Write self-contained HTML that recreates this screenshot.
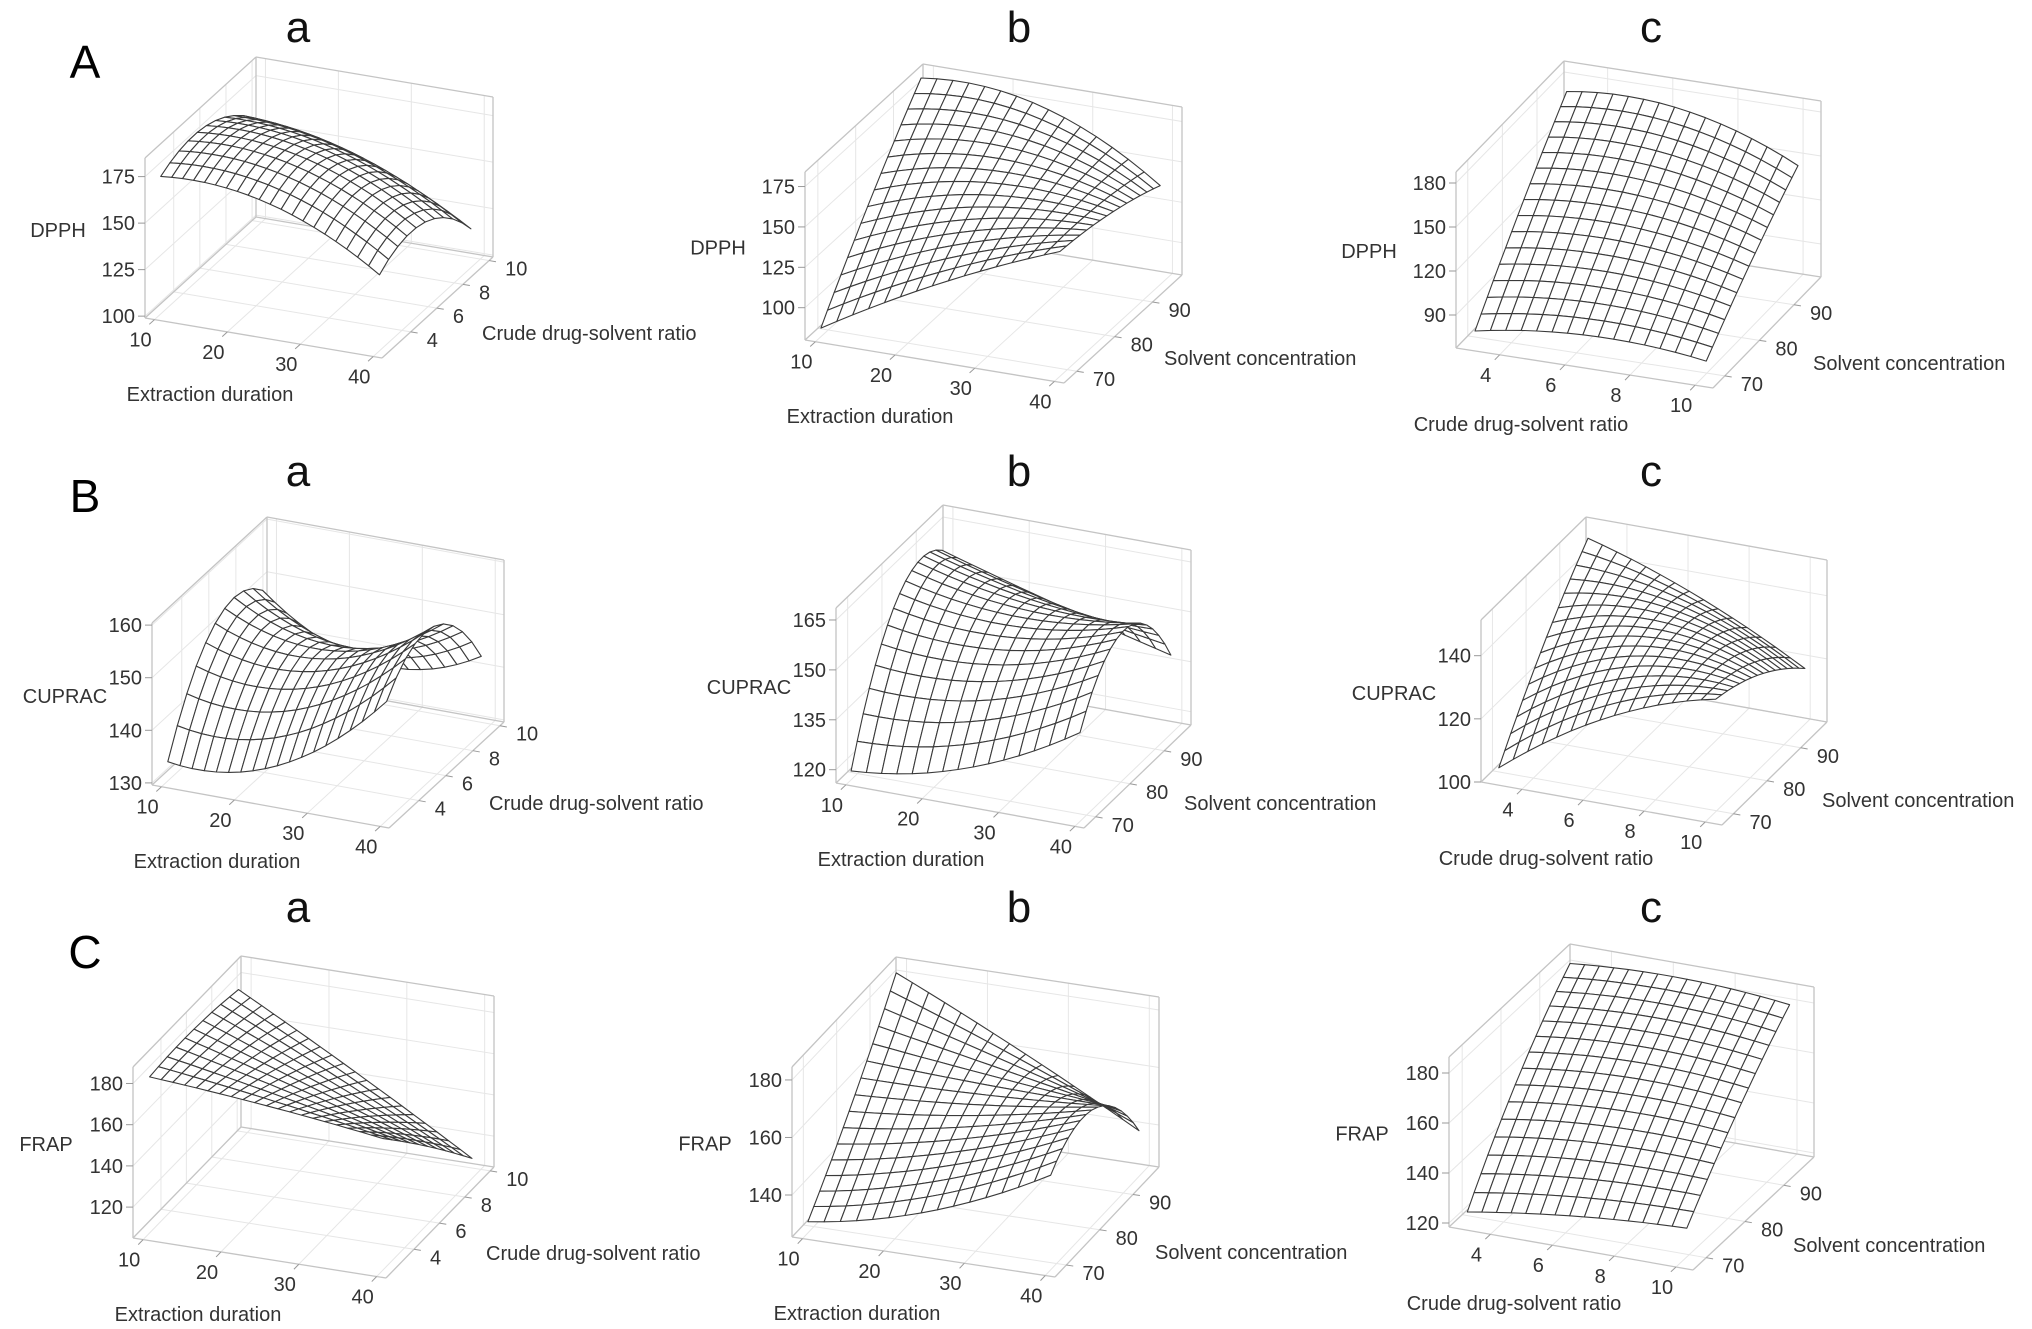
<!DOCTYPE html>
<html><head><meta charset="utf-8">
<style>
html,body{margin:0;padding:0;background:#fff;}
svg{display:block;font-family:"Liberation Sans",Arial,sans-serif;}
</style></head>
<body>
<svg id="fig" width="2032" height="1329" viewBox="0 0 2032 1329" xmlns="http://www.w3.org/2000/svg">
<rect width="2032" height="1329" fill="#fff"/>
<text x="85" y="78" font-size="46" text-anchor="middle">A</text>
<text x="85" y="512" font-size="46" text-anchor="middle">B</text>
<text x="85" y="968" font-size="46" text-anchor="middle">C</text>
</svg>
<script>
// ---- axis tick values ----
const durTicks = [10, 20, 30, 40];
const ratioTicks = [4, 6, 8, 10];
const solvTicks = [70, 80, 90];
const dpphTicksA = [100, 125, 150, 175];
const dpphTicksB = [100, 125, 150, 175];
const dpphTicksC = [90, 120, 150, 180];
const cupracTicksA = [130, 140, 150, 160];
const cupracTicksB = [120, 135, 150, 165];
const cupracTicksC = [100, 120, 140];
const frapTicksA = [120, 140, 160, 180];
const frapTicksB = [140, 160, 180];
const frapTicksC = [120, 140, 160, 180];

// ---- factor levels where response values were read (low, mid, high) ----
const durLevels = [10.5, 25.5, 40.5];
const ratioLevelsY = [2, 5.5, 9];
const ratioLevelsX = [3.2, 6.75, 10.3];
const solvLevels = [67, 80.25, 93.5];

// ---- response values [x-level][y-level] ----
const dpphA = [[175, 180, 162], [170, 175, 150], [142, 148, 122]];
const dpphB = [[88, 140, 186], [128, 158, 181], [160, 155, 144]];
const dpphC = [[80, 132, 179], [89, 136, 179], [84, 121, 153]];
const cupracA = [[134, 152, 150], [137, 149, 140], [153, 159, 145]];
const cupracB = [[120, 158, 160], [127, 155, 150], [144, 162, 141]];
const cupracC = [[105, 130, 150], [127, 140, 138], [139, 133, 121]];
const frapA = [[183, 184, 181], [178, 165, 150], [171, 145, 117]];
const frapB = [[131, 156, 185], [141, 160, 165], [160, 167, 143]];
const frapC = [[125, 160, 186], [131, 164, 188], [134, 162, 185]];

// ---- axis ranges (box extents) ----
const durRange = [8.7, 41.2];
const ratioRangeY = [1.8, 10.3];
const ratioRangeX = [2.66, 10.55];
const solvRange = [66.6, 97.8];
const zRanges = [[99,185],[80,184],[67.5,187.5],[129.6,160.4],[116,168.6],[100,151.3],[105,188],[125.4,184.5],[118.4,186.4]];

// ---- layout geometry: origin, x-vector, y-vector, height ----
const GEOM = [
 [145,318,237,40,111,-101,160],
 [805,340,259,43,118,-108,168],
 [1456,348,257,40,108,-111,176],
 [152,785,237,43,115,-106,162],
 [836,783,248,45,107,-103,175],
 [1481,782,241,43,105,-103,162],
 [133,1238,253,40,108,-111,171],
 [792,1237,263,40,104,-110,170],
 [1449,1227,244,43,121,-113,170]
];
const TITLE_POS = [[298,62],[1019,62],[1651,62],[298,506],[1019,506],[1651,506],[298,942],[1019,942],[1651,942]];

const panels = [
 {id:'A-a',t:'a',zl:'DPPH',zt:dpphTicksA,v:dpphA,xa:'dur',ya:'ratio',n:[20,10]},
 {id:'A-b',t:'b',zl:'DPPH',zt:dpphTicksB,v:dpphB,xa:'dur',ya:'solv',n:[15,15]},
 {id:'A-c',t:'c',zl:'DPPH',zt:dpphTicksC,v:dpphC,xa:'ratioX',ya:'solv',n:[15,15]},
 {id:'B-a',t:'a',zl:'CUPRAC',zt:cupracTicksA,v:cupracA,xa:'dur',ya:'ratio',n:[18,10]},
 {id:'B-b',t:'b',zl:'CUPRAC',zt:cupracTicksB,v:cupracB,xa:'dur',ya:'solv',n:[15,15]},
 {id:'B-c',t:'c',zl:'CUPRAC',zt:cupracTicksC,v:cupracC,xa:'ratioX',ya:'solv',n:[15,15]},
 {id:'C-a',t:'a',zl:'FRAP',zt:frapTicksA,v:frapA,xa:'dur',ya:'ratio',n:[20,10]},
 {id:'C-b',t:'b',zl:'FRAP',zt:frapTicksB,v:frapB,xa:'dur',ya:'solv',n:[15,15]},
 {id:'C-c',t:'c',zl:'FRAP',zt:frapTicksC,v:frapC,xa:'ratioX',ya:'solv',n:[15,15]}
];
const AX = {
 dur:{r:durRange,lv:durLevels,ticks:durTicks,label:'Extraction duration'},
 ratio:{r:ratioRangeY,lv:ratioLevelsY,ticks:ratioTicks,label:'Crude drug-solvent ratio'},
 ratioX:{r:ratioRangeX,lv:ratioLevelsX,ticks:ratioTicks,label:'Crude drug-solvent ratio'},
 solv:{r:solvRange,lv:solvLevels,ticks:solvTicks,label:'Solvent concentration'}
};

const NS='http://www.w3.org/2000/svg';
const svg=document.getElementById('fig');
function mk(tag,attrs,parent){const e=document.createElementNS(NS,tag);for(const k in attrs)e.setAttribute(k,attrs[k]);(parent||svg).appendChild(e);return e;}
function lag(t){return [2*(t-0.5)*(t-1),-4*t*(t-1),2*t*(t-0.5)];}

panels.forEach((p,pi)=>{
  const g=GEOM[pi], zr=zRanges[pi], ax=AX[p.xa], ay=AX[p.ya];
  const grp=mk('g',{});
  
  
  const fxOf=v=>(v-ax.r[0])/(ax.r[1]-ax.r[0]);
  const fyOf=v=>(v-ay.r[0])/(ay.r[1]-ay.r[0]);
  const fzOf=v=>(v-zr[0])/(zr[1]-zr[0]);
  const P=(fx,fy,fz)=>[g[0]+g[2]*fx+g[4]*fy, g[1]+g[3]*fx+g[5]*fy-g[6]*fz];
  const pts=a=>a.map(q=>q[0].toFixed(1)+','+q[1].toFixed(1)).join(' ');
  const line=(a,b,st,w,par,name)=>{const l=mk('line',{x1:a[0],y1:a[1],x2:b[0],y2:b[1],stroke:st,'stroke-width':w},par);return l;};
  // walls
  const walls=mk('g',{},grp);
  
  
  const gridC='#e6e6e6', edgeC='#c4c4c4';
  ax.ticks.forEach(t=>{const f=fxOf(t);line(P(f,0,0),P(f,1,0),gridC,1,walls,'floor-grid-x');line(P(f,1,0),P(f,1,1),gridC,1,walls,'back-grid-x');});
  ay.ticks.forEach(t=>{const f=fyOf(t);line(P(0,f,0),P(1,f,0),gridC,1,walls,'floor-grid-y');line(P(0,f,0),P(0,f,1),gridC,1,walls,'left-grid-y');});
  p.zt.forEach(t=>{const f=fzOf(t);line(P(0,0,f),P(0,1,f),gridC,1,walls,'left-grid-z');line(P(0,1,f),P(1,1,f),gridC,1,walls,'back-grid-z');});
  [[P(0,0,0),P(1,0,0)],[P(1,0,0),P(1,1,0)],[P(1,1,0),P(0,1,0)],[P(0,1,0),P(0,0,0)],
   [P(0,0,0),P(0,0,1)],[P(0,0,1),P(0,1,1)],[P(0,1,1),P(0,1,0)],
   [P(0,1,1),P(1,1,1)],[P(1,1,1),P(1,1,0)]].forEach(e=>line(e[0],e[1],edgeC,1.3,walls,'box-edge'));
  // surface
  const [nx,ny]=p.n;
  const x0=fxOf(ax.lv[0]), x1=fxOf(ax.lv[2]), y0=fyOf(ay.lv[0]), y1=fyOf(ay.lv[2]);
  const zAt=(i,j)=>{const lx=lag(i/nx), ly=lag(j/ny);let s=0;for(let a=0;a<3;a++)for(let b=0;b<3;b++)s+=lx[a]*ly[b]*p.v[a][b];return s;};
  const grid=[];
  for(let i=0;i<=nx;i++){grid.push([]);for(let j=0;j<=ny;j++){grid[i].push(P(x0+(x1-x0)*i/nx,y0+(y1-y0)*j/ny,fzOf(zAt(i,j))));}}
  const nX=g[4]*(-g[6]), nY=g[2]*g[6];
  const cells=[];
  for(let i=0;i<nx;i++)for(let j=0;j<ny;j++)cells.push([i,j,nX*(i+0.5)/nx*(x1-x0)+nY*(j+0.5)/ny*(y1-y0)]);
  cells.sort((a,b)=>b[2]-a[2]);
  const surf=mk('g',{},grp);
  
  
  cells.forEach(c=>{const i=c[0],j=c[1];
    const q=mk('polygon',{points:pts([grid[i][j],grid[i+1][j],grid[i+1][j+1],grid[i][j+1]]),fill:'#fff',stroke:'#3a3a3a','stroke-width':1.1,'stroke-linejoin':'round'},surf);
    
    
  });
  // z ticks
  const fs=20, tc='#333';
  p.zt.forEach(t=>{const q=P(0,0,fzOf(t));line([q[0]-7,q[1]],q,'#999',1,grp,'z-tick');
    const tx=mk('text',{x:q[0]-10,y:q[1]+7,'font-size':fs,'text-anchor':'end',fill:tc},grp);tx.textContent=t;
    });
  // x ticks
  const eyl=Math.hypot(g[4],g[5]), exl=Math.hypot(g[2],g[3]);
  ax.ticks.forEach(t=>{const q=P(fxOf(t),0,0);const e=[q[0]-g[4]/eyl*7,q[1]-g[5]/eyl*7];line(q,e,'#999',1,grp,'x-tick');
    const tx=mk('text',{x:q[0]-14,y:q[1]+27,'font-size':fs,'text-anchor':'middle',fill:tc},grp);tx.textContent=t;
    });
  // y ticks
  ay.ticks.forEach(t=>{const q=P(1,fyOf(t),0);const e=[q[0]+g[2]/exl*7,q[1]+g[3]/exl*7];line(q,e,'#999',1,grp,'y-tick');
    const tx=mk('text',{x:q[0]+16,y:q[1]+15,'font-size':fs,'text-anchor':'start',fill:tc},grp);tx.textContent=t;
    });
  // axis titles
  const zt=mk('text',{x:g[0]-87,y:g[1]-0.55*g[6]+7,'font-size':fs,'text-anchor':'middle',fill:tc},grp);zt.textContent=p.zl;
  
  const xt=mk('text',{x:g[0]+65,y:g[1]+83,'font-size':fs,'text-anchor':'middle',fill:tc},grp);xt.textContent=ax.label;
  
  const fr=P(1,0,0);
  const yt=mk('text',{x:fr[0]+100,y:fr[1]-18,'font-size':fs,'text-anchor':'start',fill:tc},grp);yt.textContent=ay.label;
  
  const tp=TITLE_POS[pi];
  const tt=mk('text',{x:tp[0],y:tp[1]-20,'font-size':44,'text-anchor':'middle',fill:'#111'},grp);tt.textContent=p.t;
  
});
</script>
</body></html>
